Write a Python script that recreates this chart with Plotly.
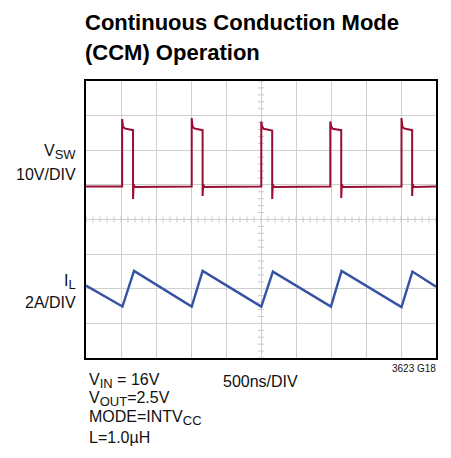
import plotly.graph_objects as go

# ---------------- data ----------------
# switch-node voltage: pulse edges (ns), spike and undershoot levels (V)
rise_ns = [516, 1510, 2504, 3490, 4507]
fall_ns = [672, 1666, 2660, 3646, 4659]
spike_v = [19.5, 19.8, 18.8, 18.8, 19.8]
under_v = [-3.6, -2.7, -3.6, -3.3, -2.7]
high_start_v = [16.8, 16.8, 16.7, 16.7, 16.8]
high_end_v = [16.3, 16.3, 16.2, 16.3, 16.3]

# inductor current (ns, A)
il_t_ns = [0, 521, 686, 1510, 1666, 2504, 2670, 3499, 3651, 4507, 4663, 5000]
il_a = [2.18, 0.97, 3.03, 0.97, 3.03, 0.97, 2.99, 0.97, 3.03, 0.94, 2.99, 2.12]

# scope settings
NS_PER_DIV = 500
V_PER_DIV = 10
A_PER_DIV = 2
VSW_GND_DIV = 4.95
IL_ZERO_DIV = 1.0
N_XDIV, N_YDIV = 10, 8

# ---------------- build VSW trace ----------------
vt, vv = [0], [0.0]
for r, f, sp, un, hs, he in zip(rise_ns, fall_ns, spike_v, under_v, high_start_v, high_end_v):
    vt += [r - 20, r, r, r + 12, r + 35, f - 5, f, f, f + 8, f + 25]
    vv += [0.1, 0.0, sp, 17.4, hs, he, he, un, 0.6, -0.1]
vt.append(5000)
vv.append(0.0)

vsw_x = [t / NS_PER_DIV for t in vt]
vsw_y = [VSW_GND_DIV + v / V_PER_DIV for v in vv]
il_x = [t / NS_PER_DIV for t in il_t_ns]
il_y = [IL_ZERO_DIV + a / A_PER_DIV for a in il_a]

# page geometry (page pixels); the browser adds an 8px body margin
W, H = 451, 458
OFF = 8
L, R, T, B = 86, 438, 81, 358
FW, FH = W - 2 * OFF, H - 2 * OFF

fig = go.Figure()
fig.add_trace(go.Scatter(x=vsw_x, y=vsw_y, mode="lines",
                         line=dict(color="#9B0E33", width=2), hoverinfo="skip"))
fig.add_trace(go.Scatter(x=il_x, y=il_y, mode="lines",
                         line=dict(color="#3652A4", width=2.4), hoverinfo="skip"))

# center-line minor ticks
shapes = []
tx = 3 / ((R - L) / N_XDIV)   # 3 px in x-div units
ty = 3 / ((B - T) / N_YDIV)
for k in range(N_XDIV * 5 + 1):
    x = k / 5
    shapes.append(dict(type="line", xref="x", yref="y", x0=x, x1=x,
                       y0=N_YDIV / 2 - ty, y1=N_YDIV / 2 + ty,
                       line=dict(color="#C8C8C8", width=1), layer="below"))
for k in range(N_YDIV * 5 + 1):
    y = k / 5
    shapes.append(dict(type="line", xref="x", yref="y", y0=y, y1=y,
                       x0=N_XDIV / 2 - tx, x1=N_XDIV / 2 + tx,
                       line=dict(color="#C8C8C8", width=1), layer="below"))


def px(xp):
    return (xp - L) / (R - L)


def py(yp):
    return (B - yp) / (B - T)


FONT = "Liberation Sans, Arial, sans-serif"
ann = []


def sub(s):
    return '<sub><span style="font-size:13px">' + s + '</span></sub>'


def text(s, x, y, size, xa="left", ya="middle", bold=False, color="#111111"):
    ann.append(dict(text=s, x=px(x), y=py(y), xref="paper", yref="paper",
                    xanchor=xa, yanchor=ya, showarrow=False,
                    align=xa if xa != "center" else "center",
                    font=dict(family=FONT, size=size, color=color,
                              weight="bold" if bold else "normal")))


text("Continuous Conduction Mode", 83, 22, 22, bold=True, color="#000000")
text("(CCM) Operation", 83, 52, 22, bold=True, color="#000000")
text("V" + sub("SW"), 78, 152, 16, xa="right")
text("10V/DIV", 78, 174, 16, xa="right")
text("I" + sub("L"), 78, 282, 16, xa="right")
text("2A/DIV", 78, 302, 16, xa="right")
text("V" + sub("IN") + " = 16V", 87, 381, 16)
text("V" + sub("OUT") + "=2.5V", 87, 399, 16)
text("MODE=INTV" + sub("CC"), 87, 418, 16)
text("L=1.0µH", 87, 437, 16)
text("500ns/DIV", 222, 381, 16)
text("3623 G18", 440, 368, 10, xa="right")

fig.update_layout(
    width=FW, height=FH,
    margin=dict(l=L - OFF, r=FW - (R - OFF), t=T - OFF, b=FH - (B - OFF), pad=0),
    paper_bgcolor="white", plot_bgcolor="white",
    showlegend=False,
    shapes=shapes, annotations=ann,
    xaxis=dict(range=[0, N_XDIV], dtick=1, tick0=0, showgrid=True, gridcolor="#CFCFCF",
               gridwidth=1, showticklabels=False, ticks="", zeroline=False,
               showline=True, linecolor="black", linewidth=2, mirror=True, fixedrange=True),
    yaxis=dict(range=[0, N_YDIV], dtick=1, tick0=0, showgrid=True, gridcolor="#CFCFCF",
               gridwidth=1, showticklabels=False, ticks="", zeroline=False,
               showline=True, linecolor="black", linewidth=2, mirror=True, fixedrange=True),
)

fig.write_html("out.html", config={"displayModeBar": False})
